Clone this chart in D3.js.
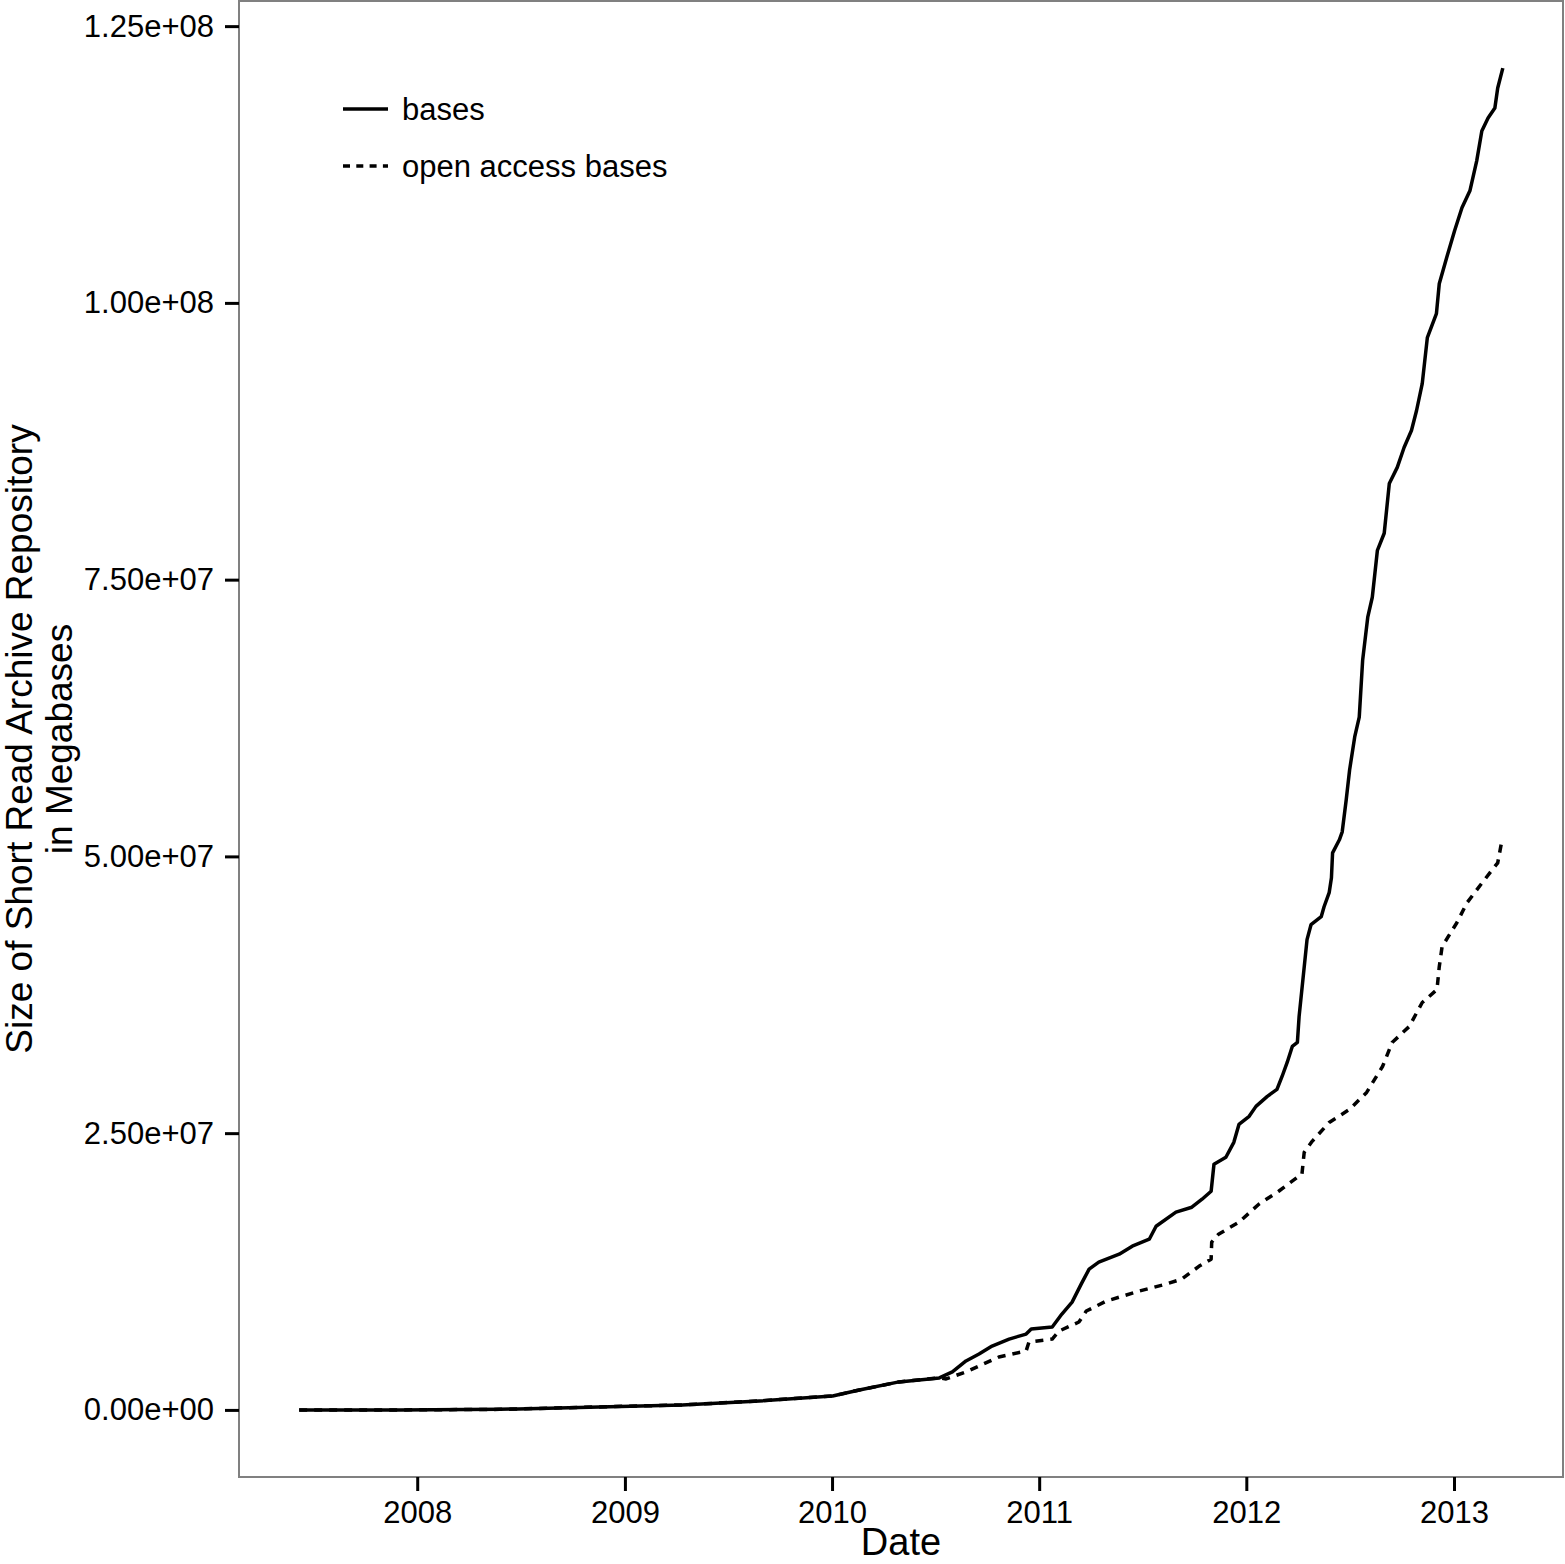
<!DOCTYPE html>
<html>
<head>
<meta charset="utf-8">
<script src="https://cdn.jsdelivr.net/npm/d3@7"></script>
<style>
  html, body { margin: 0; padding: 0; background: #fff; }
  svg { display: block; }
  text { font-family: "Liberation Sans", Arial, Helvetica, sans-serif; fill: #000; }
</style>
</head>
<body>
<svg id="chart" width="1565" height="1564"></svg>
<script>
// ---------------- data ----------------
const basesDates = [
  "2007-06-07","2007-12-01","2008-05-25","2008-11-17","2009-04-12","2009-08-26",
  "2010-01-02","2010-02-18","2010-04-29","2010-07-09","2010-08-01","2010-08-25",
  "2010-09-17","2010-10-10","2010-11-09","2010-12-09","2010-12-18","2011-01-24",
  "2011-02-10","2011-02-28","2011-03-16","2011-03-30","2011-04-16","2011-05-22",
  "2011-06-14","2011-07-14","2011-07-26","2011-08-30","2011-09-27","2011-10-15",
  "2011-10-31","2011-11-05","2011-11-26","2011-12-10","2011-12-19","2012-01-06",
  "2012-01-18","2012-02-07","2012-02-24","2012-03-04","2012-03-13","2012-03-22",
  "2012-03-31","2012-04-03","2012-04-17","2012-04-24","2012-05-12","2012-05-17",
  "2012-05-26","2012-05-30","2012-06-01","2012-06-13","2012-06-18","2012-06-25",
  "2012-07-01","2012-07-10","2012-07-18","2012-07-24","2012-08-02","2012-08-10",
  "2012-08-19","2012-08-31","2012-09-09","2012-09-23","2012-10-05","2012-10-18",
  "2012-10-27","2012-11-06","2012-11-15","2012-12-01","2012-12-06","2012-12-19",
  "2013-01-02","2013-01-15","2013-01-29","2013-02-10","2013-02-19","2013-03-02",
  "2013-03-14","2013-03-19","2013-03-28"
];
const basesValues = [
  0, 0, 0.05e6, 0.27e6, 0.45e6, 0.81e6,
  1.26e6, 1.80e6, 2.53e6, 2.89e6, 3.43e6, 4.42e6,
  5.05e6, 5.77e6, 6.40e6, 6.85e6, 7.31e6, 7.49e6,
  8.66e6, 9.74e6, 11.36e6, 12.72e6, 13.35e6, 14.07e6,
  14.79e6, 15.42e6, 16.59e6, 17.86e6, 18.31e6, 19.03e6,
  19.75e6, 22.19e6, 22.82e6, 24.17e6, 25.79e6, 26.52e6,
  27.42e6, 28.32e6, 28.95e6, 30.12e6, 31.39e6, 32.83e6,
  33.19e6, 35.53e6, 42.48e6, 43.83e6, 44.55e6, 45.45e6,
  46.72e6, 48.07e6, 50.32e6, 51.50e6, 52.22e6, 55.10e6,
  57.81e6, 60.79e6, 62.59e6, 67.73e6, 71.61e6, 73.41e6,
  77.65e6, 79.19e6, 83.69e6, 85.14e6, 86.94e6, 88.47e6,
  90.28e6, 92.71e6, 96.86e6, 99.03e6, 101.73e6, 104.08e6,
  106.51e6, 108.59e6, 110.12e6, 112.83e6, 115.53e6, 116.70e6,
  117.61e6, 119.41e6, 121.21e6
];

const openDates = [
  "2007-06-07","2007-12-01","2008-05-25","2008-11-17","2009-04-12","2009-08-26",
  "2010-01-02","2010-02-18","2010-04-29","2010-07-09","2010-07-21","2010-08-25",
  "2010-09-17","2010-10-22","2010-12-09","2010-12-14","2011-01-24","2011-02-05",
  "2011-03-12","2011-03-25","2011-04-29","2011-06-26","2011-08-12","2011-09-09",
  "2011-10-10","2011-10-31","2011-11-01","2011-11-13","2011-12-19","2012-01-23",
  "2012-02-27","2012-03-31","2012-04-08","2012-04-12","2012-04-26","2012-05-26",
  "2012-07-01","2012-07-31","2012-08-28","2012-09-14","2012-10-14","2012-11-06",
  "2012-12-02","2012-12-06","2012-12-11","2013-01-06","2013-01-24","2013-02-21",
  "2013-03-19","2013-03-26"
];
const openValues = [
  0, 0, 0.05e6, 0.27e6, 0.45e6, 0.81e6,
  1.26e6, 1.80e6, 2.53e6, 2.89e6, 2.80e6, 3.43e6,
  3.97e6, 4.78e6, 5.32e6, 6.13e6, 6.40e6, 7.12e6,
  7.94e6, 8.93e6, 9.83e6, 10.73e6, 11.36e6, 11.81e6,
  12.99e6, 13.62e6, 15.15e6, 15.87e6, 16.96e6, 18.58e6,
  19.75e6, 21.01e6, 21.28e6, 23.27e6, 24.26e6, 25.97e6,
  27.15e6, 28.68e6, 31.02e6, 33.19e6, 34.63e6, 36.80e6,
  37.97e6, 40.04e6, 41.85e6, 44.01e6, 45.82e6, 47.71e6,
  49.42e6, 51.32e6
];

const seriesNames = ["bases", "open access bases"];
const yTickValues = [0, 2.5e7, 5e7, 7.5e7, 1e8, 1.25e8];
const yTickLabels = ["0.00e+00", "2.50e+07", "5.00e+07", "7.50e+07", "1.00e+08", "1.25e+08"];
const xTickDates = ["2008-01-01","2009-01-01","2010-01-01","2011-01-01","2012-01-01","2013-01-01"];
const xTickLabels = ["2008","2009","2010","2011","2012","2013"];
const xTitle = "Date";
const yTitleLines = ["Size of Short Read Archive Repository", "in Megabases"];

// ---------------- layout ----------------
const W = 1565, H = 1564;
const panel = { left: 239, top: 1, right: 1563, bottom: 1477 };

const parse = d3.utcParse("%Y-%m-%d");
const bases = basesDates.map((d, i) => ({ date: parse(d), value: basesValues[i] }));
const open = openDates.map((d, i) => ({ date: parse(d), value: openValues[i] }));
const all = bases.concat(open);

const xExt = d3.extent(all, d => d.date);
const xSpan = xExt[1] - xExt[0];
const x = d3.scaleUtc()
  .domain([new Date(+xExt[0] - 0.05 * xSpan), new Date(+xExt[1] + 0.05 * xSpan)])
  .range([panel.left, panel.right]);

const yExt = d3.extent(all, d => d.value);
const ySpan = yExt[1] - yExt[0];
const y = d3.scaleLinear()
  .domain([yExt[0] - 0.05 * ySpan, yExt[1] + 0.05 * ySpan])
  .range([panel.bottom, panel.top]);

const svg = d3.select("#chart");
svg.append("rect").attr("width", W).attr("height", H).attr("fill", "#fff");

// panel border
svg.append("rect")
  .attr("x", panel.left).attr("y", panel.top)
  .attr("width", panel.right - panel.left).attr("height", panel.bottom - panel.top)
  .attr("fill", "none").attr("stroke", "#808080").attr("stroke-width", 2);

// y axis
const yAxis = d3.axisLeft(y)
  .tickValues(yTickValues)
  .tickFormat((d, i) => yTickLabels[i])
  .tickSize(14).tickPadding(11);
const gy = svg.append("g").attr("transform", `translate(${panel.left},0)`).call(yAxis);
gy.select(".domain").remove();
gy.selectAll(".tick line").attr("stroke", "#000").attr("stroke-width", 3);
gy.selectAll(".tick text")
  .attr("font-size", 31).attr("fill", "#000")
  .attr("font-family", "'Liberation Sans', Arial, sans-serif");

// x axis
const xAxis = d3.axisBottom(x)
  .tickValues(xTickDates.map(parse))
  .tickFormat((d, i) => xTickLabels[i])
  .tickSize(14).tickPadding(10);
const gx = svg.append("g").attr("transform", `translate(0,${panel.bottom})`).call(xAxis);
gx.select(".domain").remove();
gx.selectAll(".tick line").attr("stroke", "#000").attr("stroke-width", 3);
gx.selectAll(".tick text")
  .attr("font-size", 31).attr("fill", "#000")
  .attr("font-family", "'Liberation Sans', Arial, sans-serif");

// lines
const line = d3.line().x(d => x(d.date)).y(d => y(d.value));
svg.append("path").datum(open)
  .attr("d", line).attr("fill", "none").attr("stroke", "#000")
  .attr("stroke-width", 3.5).attr("stroke-dasharray", "8,7")
  .attr("stroke-linejoin", "round");
svg.append("path").datum(bases)
  .attr("d", line).attr("fill", "none").attr("stroke", "#000")
  .attr("stroke-width", 3.5).attr("stroke-linejoin", "round");

// axis titles
svg.append("text")
  .attr("x", (panel.left + panel.right) / 2).attr("y", 1555)
  .attr("text-anchor", "middle").attr("font-size", 38)
  .text(xTitle);

const yc = (panel.top + panel.bottom) / 2;
yTitleLines.forEach((t, i) => {
  svg.append("text")
    .attr("transform", `translate(${32 + i * 40},${yc}) rotate(-90)`)
    .attr("text-anchor", "middle").attr("font-size", 37)
    .text(t);
});

// legend
const legend = svg.append("g");
const legendItems = [
  { name: seriesNames[0], dash: null, y: 109 },
  { name: seriesNames[1], dash: "7,6.3", y: 166 }
];
legendItems.forEach(it => {
  legend.append("line")
    .attr("x1", 343).attr("x2", 388).attr("y1", it.y).attr("y2", it.y)
    .attr("stroke", "#000").attr("stroke-width", 3.5)
    .attr("stroke-dasharray", it.dash);
  legend.append("text")
    .attr("x", 402).attr("y", it.y + 10.5)
    .attr("font-size", 31)
    .text(it.name);
});
</script>
</body>
</html>
